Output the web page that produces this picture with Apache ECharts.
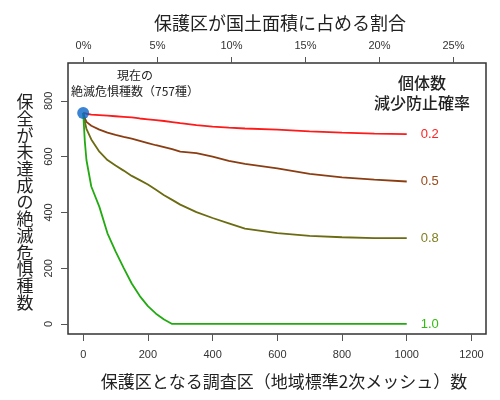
<!DOCTYPE html>
<html>
<head>
<meta charset="utf-8">
<script src="https://cdn.jsdelivr.net/npm/echarts@6/dist/echarts.min.js"></script>
<style>
  html, body { margin: 0; padding: 0; background: #fff; }
  #chart { width: 500px; height: 400px; }
</style>
</head>
<body>
<div id="chart"></div>
<script>
// survey cells turned into protected areas
var xs = [0, 5, 10, 25, 50, 75, 100, 125, 150, 175, 200, 225, 250, 275, 300, 350, 400, 450, 500, 600, 700, 800, 900, 1000];
// unprotected endangered species for each probability
var p02 = [757, 756, 754, 751, 749, 747, 745, 743, 741, 737, 734, 731, 728, 724, 720, 713, 708, 704, 701, 697, 691, 686, 683, 681];
var p05 = [757, 738, 725, 711, 697, 686, 678, 671, 665, 657, 649, 641, 634, 627, 618, 613, 600, 585, 574, 558, 538, 526, 518, 511];
var p08 = [757, 725, 700, 662, 618, 588, 568, 550, 531, 516, 500, 481, 462, 445, 428, 401, 380, 361, 342, 326, 316, 311, 308, 308];
var p10 = [757, 655, 588, 493, 420, 325, 260, 201, 145, 100, 64, 37, 16, 0, 0, 0, 0, 0, 0, 0, 0, 0, 0, 0];
var seriesNames = ['0.2', '0.5', '0.8', '1.0'];
var seriesColors = ['#ff1a1a', '#8b3d12', '#6b6b12', '#22aa11'];
var labelColors = ['#ff2222', '#9a4a1a', '#7f7f22', '#33bb11'];
var startPoint = [0, 757];

var xTicks = [0, 200, 400, 600, 800, 1000, 1200];
var yTicks = [0, 200, 400, 600, 800];
var pctTicks = [0, 5, 10, 15, 20, 25];

var jp = '"Noto Sans CJK JP", sans-serif';
var num = '"Liberation Sans", Arial, sans-serif';

function pairs(ys) {
    return xs.map(function (x, i) { return [x, ys[i]]; });
}

var lines = [p02, p05, p08, p10].map(function (ys, i) {
    return {
        name: seriesNames[i],
        type: 'line',
        data: pairs(ys),
        showSymbol: false,
        symbol: 'none',
        lineStyle: { color: seriesColors[i], width: 1.8 },
        endLabel: {
            show: true,
            formatter: seriesNames[i],
            distance: 14,
            color: labelColors[i],
            fontFamily: num,
            fontSize: 13
        },
        z: 2
    };
});

var option = {
    animation: false,
    grid: {
        left: 68, right: 14, top: 63, bottom: 66,
        show: true, borderColor: '#333', borderWidth: 1.5
    },
    xAxis: [
        {
            type: 'value', min: -47, max: 1245,
            axisLine: { show: false, onZero: false },
            splitLine: { show: false },
            axisTick: { show: true, inside: false, length: 7, customValues: xTicks, lineStyle: { color: '#555' } },
            axisLabel: {
                customValues: xTicks, margin: 15, fontSize: 11, color: '#333', fontFamily: num,
                formatter: function (v) { return String(v); }
            }
        },
        {
            type: 'value', position: 'top', min: -1.05, max: 27.2,
            axisLine: { show: false, onZero: false },
            splitLine: { show: false },
            axisTick: { show: true, inside: false, length: 6, customValues: pctTicks, lineStyle: { color: '#555' } },
            axisLabel: {
                customValues: pctTicks, margin: 12, fontSize: 11, color: '#333', fontFamily: num,
                formatter: '{value}%'
            }
        }
    ],
    yAxis: {
        type: 'value', min: -36, max: 936,
        axisLine: { show: false, onZero: false },
        splitLine: { show: false },
        axisTick: { show: true, inside: false, length: 7, customValues: yTicks, lineStyle: { color: '#555' } },
        axisLabel: { customValues: yTicks, rotate: 90, margin: 14, fontSize: 11, color: '#333', fontFamily: num }
    },
    series: lines.concat([{
        type: 'scatter',
        data: [startPoint],
        symbolSize: 12,
        itemStyle: { color: '#0a64c8' },
        z: 5
    }]),
    graphic: [
        { type: 'text', x: 280, y: 23, style: { text: '保護区が国土面積に占める割合', font: '18px ' + jp, fill: '#222', align: 'center', verticalAlign: 'middle' } },
        { type: 'text', x: 284, y: 382, style: { text: '保護区となる調査区（地域標準2次メッシュ）数', font: '17px ' + jp, fill: '#222', align: 'center', verticalAlign: 'middle' } },
        { type: 'text', x: 25, y: 202, style: { text: '保全が未達成の絶滅危惧種数'.split('').join('\n'), font: '17px ' + jp, lineHeight: 16.7, fill: '#222', align: 'center', verticalAlign: 'middle' } },
        { type: 'text', x: 135, y: 75, style: { text: '現在の', font: '12px ' + jp, fill: '#222', align: 'center', verticalAlign: 'middle' } },
        { type: 'text', x: 135, y: 91, style: { text: '絶滅危惧種数（757種）', font: '12px ' + jp, fill: '#222', align: 'center', verticalAlign: 'middle' } },
        { type: 'text', x: 422, y: 83, style: { text: '個体数', font: '500 16px ' + jp, fill: '#222', align: 'center', verticalAlign: 'middle' } },
        { type: 'text', x: 422, y: 103, style: { text: '減少防止確率', font: '500 16px ' + jp, fill: '#222', align: 'center', verticalAlign: 'middle' } }
    ]
};

var chart = echarts.init(document.getElementById('chart'));
chart.setOption(option);
</script>
</body>
</html>
